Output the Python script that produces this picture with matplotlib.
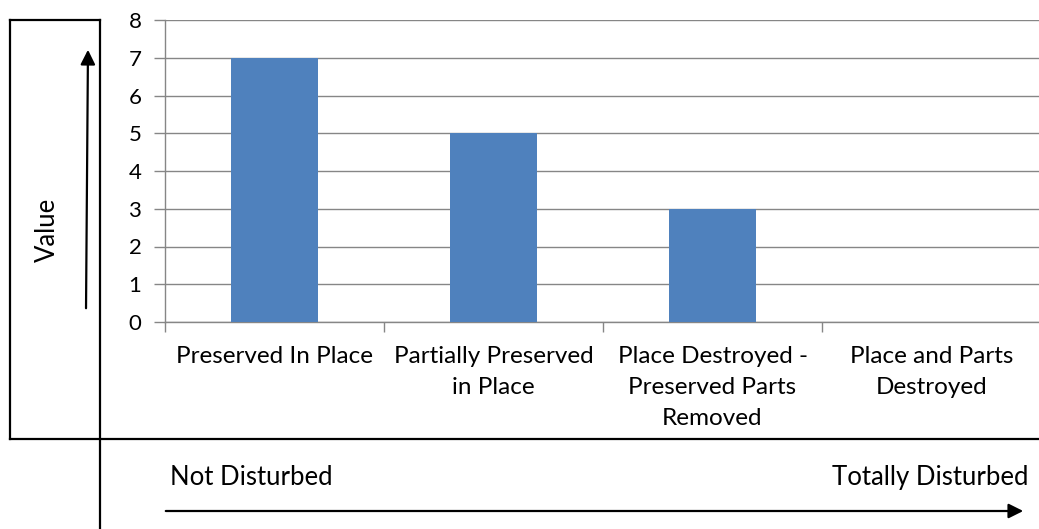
import matplotlib.pyplot as plt
import numpy as np

# Data
categories = ['Preserved In Place', 'Partially Preserved\nin Place',
              'Place Destroyed -\nPreserved Parts\nRemoved', 'Place and Parts\nDestroyed']
values = [7, 5, 3, 0]
y_ticks = [0, 1, 2, 3, 4, 5, 6, 7, 8]

plt.rcParams['font.family'] = ['Lato', 'DejaVu Sans']
plt.rcParams['font.size'] = 17.5

W, H = 1039, 529
fig = plt.figure(figsize=(W / 100, H / 100), dpi=100)

# plot area in pixels
left, right, top, bottom = 165, 1041, 20, 322
ax = fig.add_axes([left / W, 1 - bottom / H, (right - left) / W, (bottom - top) / H])

x = np.arange(len(categories))
ax.bar(x, values, width=0.4, color='#4F81BD', zorder=3)
ax.set_xlim(-0.5, len(categories) - 0.5)
ax.set_ylim(0, 8)
ax.set_yticks(y_ticks)
ax.grid(True, axis='y', color='#868686', linewidth=1.0, zorder=0)

ax.set_xticks(x)
ax.set_xticklabels(categories, linespacing=1.6, va='top')
ax.set_xticks(np.arange(len(categories) + 1) - 0.5, minor=True)
ax.tick_params(axis='x', which='major', length=0, pad=17)
ax.tick_params(axis='x', which='minor', length=7, color='#868686', width=1)
ax.tick_params(axis='y', length=8, color='#868686', width=1, pad=9, labelsize=16)

for s in ['top', 'right']:
    ax.spines[s].set_visible(False)
for s in ['left', 'bottom']:
    ax.spines[s].set_color('#868686')
    ax.spines[s].set_linewidth(1.0)

# overlay for the frame, arrows and annotations
ov = fig.add_axes([0, 0, 1, 1], facecolor='none')
ov.set_xlim(0, W)
ov.set_ylim(H, 0)
ov.axis('off')

lw = 1.6
ov.plot([10, 100], [20, 20], color='black', lw=lw)
ov.plot([10, 10], [20, 439], color='black', lw=lw)
ov.plot([10, W], [439, 439], color='black', lw=lw)
ov.plot([100, 100], [20, H], color='black', lw=lw)

ov.annotate('', xy=(88, 47), xytext=(86, 311),
            arrowprops=dict(arrowstyle='-|>', color='black', lw=1.6, mutation_scale=22))
ov.annotate('', xy=(1026, 511), xytext=(163, 511),
            arrowprops=dict(arrowstyle='-|>', color='black', lw=1.6, mutation_scale=22))

ov.text(47, 230, 'Value', rotation=90, ha='center', va='center', fontsize=18.5)
ov.text(170, 485, 'Not Disturbed', ha='left', va='baseline', fontsize=18.5)
ov.text(1028, 485, 'Totally Disturbed', ha='right', va='baseline', fontsize=18.5)

fig.savefig('out.png', dpi=100)
